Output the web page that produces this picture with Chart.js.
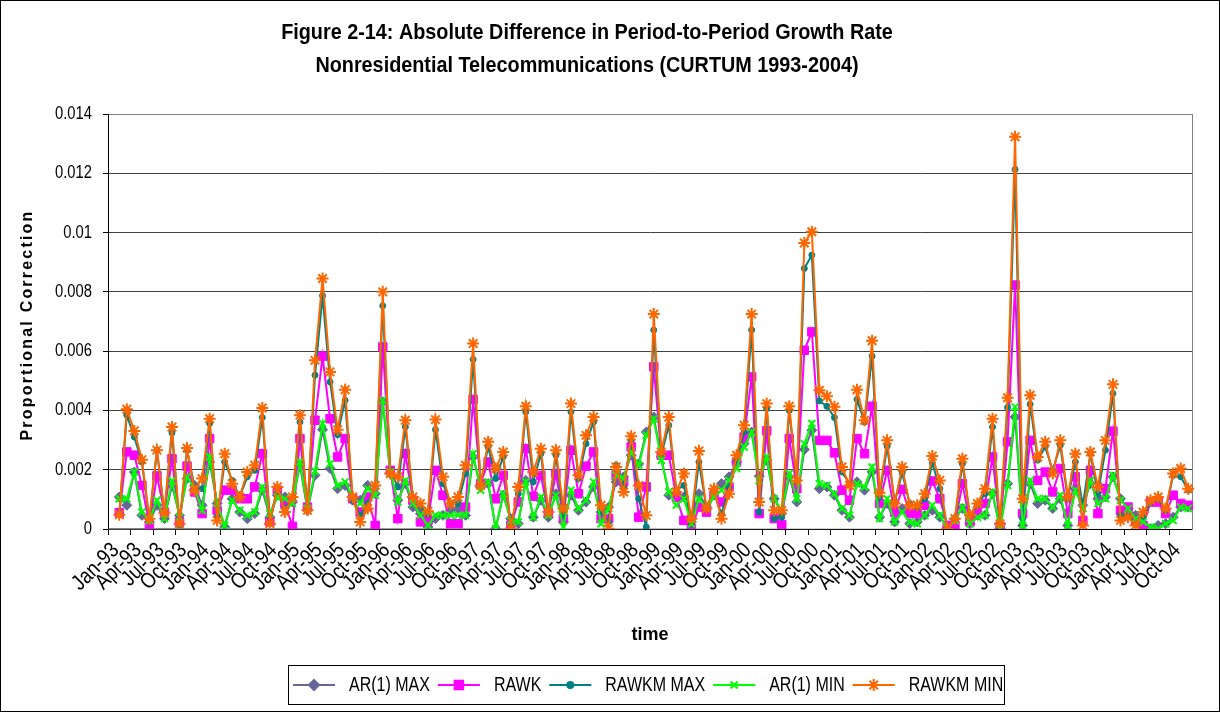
<!DOCTYPE html>
<html>
<head>
<meta charset="utf-8">
<script src="https://cdn.jsdelivr.net/npm/chart.js@4.4.1/dist/chart.umd.min.js"></script>
<style>
  html, body { margin: 0; padding: 0; background: #fff; }
  #wrap { width: 1220px; height: 712px; }
</style>
</head>
<body>
<div id="wrap"><canvas id="chart" width="1220" height="712"></canvas></div>
<script>
// categories: monthly, Jan-93 .. Dec-04 (first period has no growth rate)
const months = ['Jan','Feb','Mar','Apr','May','Jun','Jul','Aug','Sep','Oct','Nov','Dec'];
const years = ['93','94','95','96','97','98','99','00','01','02','03','04'];
const categories = [];
years.forEach(y => months.forEach(m => categories.push(m + '-' + y)));

const titleLines = [
  'Figure 2-14: Absolute Difference in Period-to-Period Growth Rate',
  'Nonresidential Telecommunications (CURTUM 1993-2004)'
];

const yTicks = [0, 0.002, 0.004, 0.006, 0.008, 0.01, 0.012, 0.014];

const ar1Max = [null,
  0.00108,0.00080,0.00192,0.00046,0.00024,0.00080,0.00035,0.00147,0.00046,0.00170,0.00147,0.00080,0.00226,
  0.00086,0.00007,0.00102,0.00057,0.00035,0.00052,0.00131,0.00040,0.00114,0.00108,0.00091,0.00215,0.00063,0.00181,
  0.00335,0.00204,0.00136,0.00147,0.00097,0.00097,0.00147,0.00119,0.00429,0.00187,0.00097,0.00153,0.00074,0.00052,0.00007,
  0.00035,0.00046,0.00063,0.00069,0.00046,0.00243,0.00142,0.00153,0.00001,0.00114,0.00035,0.00018,0.00164,0.00040,
  0.00097,0.00040,0.00119,0.00024,0.00114,0.00063,0.00091,0.00142,0.00057,0.00074,0.00159,0.00176,0.00249,0.00220,0.00327,
  0.00378,0.00243,0.00114,0.00108,0.00108,0.00024,0.00119,0.00074,0.00125,0.00153,0.00176,0.00226,0.00288,0.00327,0.00178,
  0.00232,0.00102,0.00052,0.00176,0.00091,0.00268,0.00333,0.00136,0.00142,0.00114,0.00063,0.00040,0.00159,0.00131,0.00193,
  0.00040,0.00086,0.00024,0.00069,0.00018,0.00024,0.00046,0.00063,0.00040,0.00007,0.00035,0.00069,0.00018,0.00046,
  0.00046,0.00119,0.00001,0.00153,0.00378,0.00012,0.00153,0.00086,0.00097,0.00069,0.00102,0.00012,0.00136,0.00080,0.00153,
  0.00102,0.00108,0.00176,0.00102,0.00069,0.00046,0.00018,0.00001,0.00012,0.00018,0.00040,0.00074,0.00074];

const rawk = [null,
  0.00055,0.00260,0.00249,0.00147,0.00012,0.00179,0.00057,0.00237,0.00024,0.00212,0.00125,0.00052,0.00305,
  0.00063,0.00131,0.00131,0.00102,0.00102,0.00142,0.00254,0.00024,0.00131,0.00086,0.00009,0.00305,0.00074,0.00367,
  0.00583,0.00372,0.00243,0.00305,0.00102,0.00057,0.00108,0.00012,0.00614,0.00198,0.00035,0.00254,0.00097,0.00024,0.00029,
  0.00198,0.00114,0.00018,0.00018,0.00074,0.00437,0.00153,0.00226,0.00102,0.00181,0.00012,0.00091,0.00271,0.00110,
  0.00181,0.00052,0.00187,0.00035,0.00266,0.00119,0.00212,0.00260,0.00035,0.00035,0.00181,0.00159,0.00277,0.00040,0.00142,
  0.00547,0.00249,0.00249,0.00108,0.00029,0.00001,0.00074,0.00057,0.00114,0.00091,0.00142,0.00226,0.00310,0.00513,0.00052,
  0.00331,0.00035,0.00015,0.00305,0.00136,0.00603,0.00665,0.00299,0.00299,0.00257,0.00131,0.00097,0.00305,0.00254,0.00414,
  0.00086,0.00198,0.00057,0.00134,0.00052,0.00052,0.00080,0.00162,0.00102,0.00012,0.00012,0.00153,0.00024,0.00060,
  0.00086,0.00243,0.00009,0.00294,0.00823,0.00052,0.00299,0.00164,0.00192,0.00125,0.00204,0.00052,0.00176,0.00029,0.00198,
  0.00052,0.00136,0.00330,0.00063,0.00074,0.00029,0.00012,0.00091,0.00091,0.00052,0.00114,0.00086,0.00080];

const rawkmMax = [null,
  0.00050,0.00384,0.00310,0.00226,0.00029,0.00266,0.00052,0.00324,0.00012,0.00266,0.00142,0.00136,0.00356,
  0.00040,0.00226,0.00164,0.00108,0.00176,0.00198,0.00376,0.00046,0.00120,0.00069,0.00102,0.00361,0.00069,0.00519,
  0.00787,0.00496,0.00318,0.00434,0.00097,0.00046,0.00086,0.00142,0.00753,0.00198,0.00142,0.00344,0.00102,0.00074,0.00050,
  0.00335,0.00153,0.00086,0.00086,0.00187,0.00572,0.00153,0.00277,0.00170,0.00243,0.00012,0.00119,0.00395,0.00159,
  0.00254,0.00046,0.00249,0.00046,0.00395,0.00170,0.00288,0.00361,0.00057,0.00024,0.00215,0.00142,0.00299,0.00102,0.00007,
  0.00671,0.00249,0.00350,0.00131,0.00147,0.00018,0.00226,0.00069,0.00119,0.00052,0.00142,0.00232,0.00327,0.00671,0.00057,
  0.00406,0.00035,0.00040,0.00400,0.00159,0.00879,0.00924,0.00432,0.00414,0.00376,0.00192,0.00153,0.00437,0.00361,0.00583,
  0.00108,0.00279,0.00091,0.00189,0.00086,0.00074,0.00102,0.00223,0.00136,0.00001,0.00029,0.00220,0.00046,0.00080,
  0.00119,0.00344,0.00007,0.00410,0.01213,0.00035,0.00421,0.00232,0.00277,0.00198,0.00282,0.00102,0.00226,0.00080,0.00254,
  0.00119,0.00266,0.00457,0.00046,0.00046,0.00018,0.00040,0.00091,0.00102,0.00063,0.00181,0.00176,0.00131];

const ar1Min = [null,
  0.00102,0.00102,0.00192,0.00057,0.00029,0.00097,0.00035,0.00162,0.00040,0.00176,0.00136,0.00063,0.00243,
  0.00086,0.00012,0.00097,0.00063,0.00046,0.00057,0.00142,0.00052,0.00108,0.00102,0.00086,0.00226,0.00069,0.00195,
  0.00356,0.00220,0.00147,0.00159,0.00108,0.00086,0.00136,0.00114,0.00434,0.00192,0.00091,0.00164,0.00086,0.00046,0.00012,
  0.00046,0.00046,0.00046,0.00046,0.00046,0.00254,0.00131,0.00159,0.00001,0.00119,0.00029,0.00024,0.00159,0.00040,
  0.00108,0.00046,0.00114,0.00007,0.00131,0.00069,0.00097,0.00159,0.00018,0.00069,0.00181,0.00170,0.00260,0.00215,0.00316,
  0.00372,0.00232,0.00125,0.00080,0.00102,0.00018,0.00102,0.00069,0.00108,0.00131,0.00164,0.00204,0.00277,0.00327,0.00164,
  0.00243,0.00102,0.00063,0.00187,0.00102,0.00288,0.00356,0.00153,0.00147,0.00119,0.00069,0.00046,0.00153,0.00142,0.00209,
  0.00035,0.00102,0.00024,0.00057,0.00024,0.00018,0.00046,0.00080,0.00046,0.00001,0.00029,0.00074,0.00018,0.00040,
  0.00046,0.00125,0.00001,0.00147,0.00412,0.00012,0.00164,0.00102,0.00102,0.00074,0.00114,0.00012,0.00131,0.00069,0.00164,
  0.00086,0.00102,0.00181,0.00097,0.00069,0.00035,0.00024,0.00007,0.00001,0.00018,0.00029,0.00074,0.00069];

const rawkmMin = [null,
  0.00048,0.00404,0.00331,0.00234,0.00035,0.00266,0.00055,0.00344,0.00018,0.00273,0.00131,0.00170,0.00372,
  0.00029,0.00254,0.00153,0.00108,0.00192,0.00215,0.00408,0.00018,0.00142,0.00057,0.00108,0.00384,0.00063,0.00569,
  0.00845,0.00530,0.00335,0.00470,0.00108,0.00024,0.00069,0.00147,0.00800,0.00187,0.00176,0.00367,0.00108,0.00086,0.00060,
  0.00369,0.00176,0.00086,0.00108,0.00215,0.00626,0.00147,0.00294,0.00204,0.00260,0.00001,0.00142,0.00414,0.00192,
  0.00271,0.00057,0.00266,0.00069,0.00423,0.00181,0.00316,0.00378,0.00080,0.00001,0.00209,0.00125,0.00313,0.00147,0.00046,
  0.00725,0.00260,0.00378,0.00125,0.00187,0.00035,0.00263,0.00069,0.00136,0.00035,0.00119,0.00249,0.00350,0.00725,0.00091,
  0.00423,0.00063,0.00063,0.00414,0.00164,0.00965,0.01003,0.00468,0.00448,0.00412,0.00209,0.00147,0.00470,0.00367,0.00635,
  0.00122,0.00299,0.00086,0.00209,0.00080,0.00080,0.00119,0.00246,0.00164,0.00000,0.00035,0.00237,0.00046,0.00086,
  0.00136,0.00372,0.00018,0.00443,0.01323,0.00102,0.00451,0.00243,0.00294,0.00187,0.00299,0.00108,0.00254,0.00012,0.00260,
  0.00142,0.00299,0.00488,0.00029,0.00040,0.00012,0.00057,0.00097,0.00108,0.00069,0.00187,0.00204,0.00136];

const SANS = "'Liberation Sans', Arial, sans-serif";

function series(label, data, color, style, radius, order) {
  const stroke = style === 'crossRot' || style === 'star';
  return {
    label: label,
    data: data,
    borderColor: color,
    backgroundColor: color,
    borderWidth: 2,
    pointStyle: style,
    pointRadius: radius,
    pointHoverRadius: radius,
    pointBorderColor: color,
    pointBackgroundColor: color,
    pointBorderWidth: stroke ? 2 : 1,
    tension: 0,
    order: order
  };
}

const datasets = [
  series('AR(1) MAX', ar1Max, '#666699', 'rectRot', 5, 5),
  series('RAWK', rawk, '#FF00FF', 'rect', 6, 4),
  series('RAWKM MAX', rawkmMax, '#008080', 'circle', 3, 3),
  series('AR(1) MIN', ar1Min, '#00FF00', 'crossRot', 5, 2),
  series('RAWKM MIN', rawkmMin, '#FF6600', 'star', 6, 1)
];

// text squeezed horizontally, to look like the narrow face of the original
function narrowText(ctx, text, x, y, sx, angle) {
  ctx.save();
  ctx.translate(x, y);
  if (angle) ctx.rotate(angle);
  ctx.scale(sx, 1);
  ctx.fillText(text, 0, 0);
  ctx.restore();
}

const frameAndText = {
  id: 'frameAndText',
  beforeDatasetsDraw(chart) {
    const a = chart.chartArea;
    const ctx = chart.ctx;
    ctx.save();
    ctx.strokeStyle = '#808080';
    ctx.lineWidth = 1;
    ctx.strokeRect(Math.round(a.left) + 0.5, Math.round(a.top) + 0.5,
      Math.round(a.right - a.left), Math.round(a.bottom - a.top));
    ctx.strokeStyle = '#000';
    ctx.beginPath();
    ctx.moveTo(Math.round(a.left) + 0.5, a.top);
    ctx.lineTo(Math.round(a.left) + 0.5, a.bottom);
    ctx.lineTo(a.right, Math.round(a.bottom) + 0.5);
    ctx.stroke();
    ctx.restore();
  },
  afterDraw(chart) {
    const ctx = chart.ctx;
    const xs = chart.scales.x, ys = chart.scales.y;
    ctx.save();
    ctx.strokeStyle = '#000';
    ctx.lineWidth = 1;
    ctx.strokeRect(0.5, 0.5, chart.width - 1, chart.height - 1);
    ctx.fillStyle = '#000';

    // title
    ctx.font = 'bold 22px ' + SANS;
    ctx.textAlign = 'center';
    ctx.textBaseline = 'middle';
    narrowText(ctx, titleLines[0], 587, 33, 0.9);
    narrowText(ctx, titleLines[1], 587, 66, 0.9);

    // y tick labels
    ctx.font = '18px ' + SANS;
    ctx.textAlign = 'right';
    yTicks.forEach(v => {
      narrowText(ctx, String(v), ys.left + 92, ys.getPixelForValue(v), 0.82);
    });

    // x tick labels, every third month, rotated 45 degrees
    ctx.font = '22px ' + SANS;
    ctx.textAlign = 'right';
    categories.forEach((c, i) => {
      if (i % 3 !== 0) return;
      narrowText(ctx, c, xs.getPixelForValue(i) + 4, xs.top + 18, 0.84, -Math.PI / 4);
    });

    // y axis title, letter spaced
    ctx.font = 'bold 16px ' + SANS;
    ctx.textAlign = 'center';
    ctx.letterSpacing = '2.2px';
    ctx.save();
    ctx.translate(28, 325);
    ctx.rotate(-Math.PI / 2);
    ctx.fillText('Proportional Correction', 0, 0);
    ctx.restore();
    ctx.letterSpacing = '0px';

    // legend with line + marker samples
    const top = 665, h = 39;
    ctx.strokeRect(288.5, top + 0.5, 716, h);
    ctx.font = '20px ' + SANS;
    ctx.textAlign = 'left';
    let x = 293;
    const cy = top + h / 2 + 0.5;
    datasets.forEach(ds => {
      ctx.strokeStyle = ds.borderColor;
      ctx.lineWidth = 2;
      ctx.beginPath();
      ctx.moveTo(x, cy);
      ctx.lineTo(x + 42, cy);
      ctx.stroke();
      ctx.fillStyle = ds.pointBackgroundColor;
      Chart.helpers.drawPoint(ctx, {
        pointStyle: ds.pointStyle,
        radius: ds.pointRadius,
        rotation: 0,
        borderWidth: ds.pointBorderWidth
      }, x + 21, cy);
      ctx.fillStyle = '#000';
      narrowText(ctx, ds.label, x + 56, cy, 0.8);
      x += 56 + ctx.measureText(ds.label).width * 0.8 + 8;
    });
    ctx.restore();
  }
};

new Chart(document.getElementById('chart'), {
  type: 'line',
  data: { labels: categories, datasets: datasets },
  plugins: [frameAndText],
  options: {
    responsive: false,
    animation: false,
    layout: { padding: { top: 114, right: 28, bottom: 62, left: 0 } },
    plugins: {
      legend: { display: false },
      title: { display: false },
      tooltip: { enabled: false }
    },
    scales: {
      x: {
        type: 'category',
        offset: true,
        afterFit: scale => { scale.height = 121; },
        grid: {
          offset: true,
          drawOnChartArea: false,
          drawTicks: true,
          tickLength: 6,
          color: ctx => ctx.index % 3 === 0 ? '#000' : 'rgba(0,0,0,0)',
          tickColor: ctx => ctx.index % 3 === 0 ? '#000' : 'rgba(0,0,0,0)'
        },
        border: { display: true, color: '#000', width: 1 },
        ticks: { display: false, autoSkip: false },
        title: {
          display: true,
          text: 'time',
          color: '#000',
          font: { family: SANS, size: 18, weight: 'bold' },
          padding: { top: 0, bottom: 4 }
        }
      },
      y: {
        min: 0,
        max: 0.014,
        afterFit: scale => { scale.width = 108; },
        afterBuildTicks: scale => { scale.ticks = yTicks.map(v => ({ value: v })); },
        grid: {
          color: '#404040',
          lineWidth: 1,
          drawTicks: true,
          tickLength: 5,
          tickColor: '#000'
        },
        border: { display: true, color: '#000', width: 1 },
        ticks: { display: false }
      }
    }
  }
});
</script>
</body>
</html>
